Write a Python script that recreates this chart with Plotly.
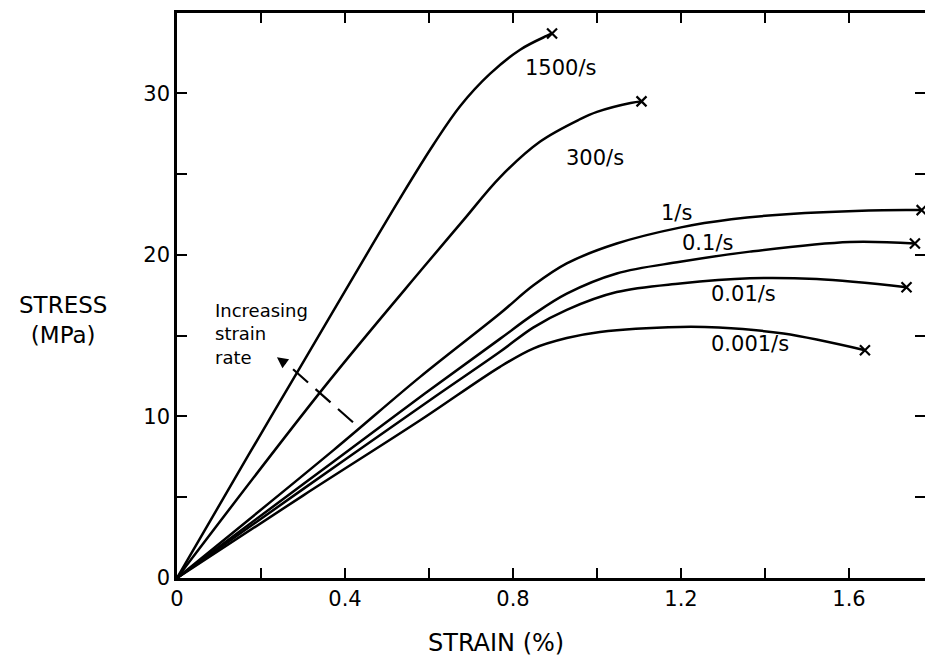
import plotly.graph_objects as go

# ---- data (strain %, stress MPa) ----
x_1500 = [0, 0.17, 0.29, 0.46, 0.531, 0.61, 0.674, 0.745, 0.817, 0.88, 0.893]
y_1500 = [0, 7.6, 12.9, 20.4, 23.5, 26.8, 29.2, 31.2, 32.7, 33.55, 33.7]

x_300 = [0, 0.35, 0.586, 0.682, 0.769, 0.864, 0.96, 1.0, 1.08, 1.106]
y_300 = [0, 11.8, 19.2, 22.15, 24.8, 27.0, 28.4, 28.85, 29.4, 29.5]

x_1 = [0, 0.372, 0.579, 0.769, 0.848, 0.928, 1.047, 1.2, 1.32, 1.443, 1.681, 1.773]
y_1 = [0, 7.9, 12.45, 16.37, 18.1, 19.47, 20.7, 21.7, 22.2, 22.5, 22.76, 22.77]

x_01 = [0, 0.3, 0.579, 0.769, 0.848, 0.928, 1.047, 1.198, 1.364, 1.602, 1.757]
y_01 = [0, 5.8, 11.2, 14.8, 16.3, 17.6, 18.85, 19.57, 20.2, 20.8, 20.7]

x_001 = [0, 0.3, 0.602, 0.769, 0.848, 0.928, 1.047, 1.198, 1.364, 1.523, 1.737]
y_001 = [0, 5.5, 11.0, 14.0, 15.5, 16.6, 17.7, 18.23, 18.55, 18.5, 18.0]

x_0001 = [0, 0.3, 0.579, 0.769, 0.848, 0.928, 1.007, 1.198, 1.29, 1.444, 1.638]
y_0001 = [0, 5.1, 9.76, 13.07, 14.2, 14.85, 15.23, 15.54, 15.5, 15.13, 14.1]

curve_names = ["1500/s", "300/s", "1/s", "0.1/s", "0.01/s", "0.001/s"]
curve_x = [x_1500, x_300, x_1, x_01, x_001, x_0001]
curve_y = [y_1500, y_300, y_1, y_01, y_001, y_0001]

label_x = [0.912, 0.995, 1.190, 1.262, 1.350, 1.364]
label_y = [31.56, 25.99, 22.57, 20.72, 17.57, 14.47]

arrow_x = [0.419, 0.272]
arrow_y = [9.64, 13.02]

x_tickvals = [0, 0.2, 0.4, 0.6, 0.8, 1.0, 1.2, 1.4, 1.6]
x_ticktext = ["0", "", "0.4", "", "0.8", "", "1.2", "", "1.6"]
y_tickvals = [0, 5, 10, 15, 20, 25, 30]
y_ticktext = ["0", "", "10", "", "20", "", "30"]

X_RANGE = [0, 1.781]
Y_RANGE = [0, 34.97]

FONT = "DejaVu Sans"

fig = go.Figure()
for name, xs, ys in zip(curve_names, curve_x, curve_y):
    fig.add_trace(go.Scatter(
        x=xs, y=ys, mode="lines", name=name,
        line=dict(color="black", width=2.5, shape="spline", smoothing=1.0),
        showlegend=False, hoverinfo="skip"))
    fig.add_trace(go.Scatter(
        x=[xs[-1]], y=[ys[-1]], mode="markers", name=name + " failure",
        marker=dict(symbol="x-thin", size=10, line=dict(color="black", width=2.2)),
        showlegend=False, hoverinfo="skip", cliponaxis=False))

# dashed "increasing strain rate" line
fig.add_trace(go.Scatter(
    x=arrow_x, y=arrow_y, mode="lines",
    line=dict(color="black", width=2.2, dash="20px,10px"),
    showlegend=False, hoverinfo="skip"))

# invisible trace on the right-hand axis (carries the mirrored ticks only)
fig.add_trace(go.Scatter(x=[X_RANGE[0]], y=[Y_RANGE[0]], yaxis="y2", mode="markers",
                         marker=dict(size=0.1, opacity=0), showlegend=False,
                         hoverinfo="skip"))

annotations = []
for name, lx, ly in zip(curve_names, label_x, label_y):
    annotations.append(dict(x=lx, y=ly, xref="x", yref="y", text=name,
                            showarrow=False, font=dict(family=FONT, size=21, color="black")))

annotations.append(dict(x=0.238, y=13.67, ax=0.262, ay=13.2, xref="x", yref="y",
                        axref="x", ayref="y", text="", showarrow=True,
                        arrowhead=2, arrowsize=1.0, arrowwidth=2.2, arrowcolor="black"))
annotations.append(dict(x=0.0857, y=15.1, xref="x", yref="y", xanchor="left",
                        yanchor="middle", align="left", text="Increasing<br>strain<br>rate",
                        showarrow=False, font=dict(family=FONT, size=18, color="black")))

annotations.append(dict(x=-0.1524, y=0.457, xref="paper", yref="paper",
                        xanchor="center", yanchor="middle",
                        text="STRESS<br>(MPa)", showarrow=False,
                        font=dict(family=FONT, size=23, color="black")))
annotations.append(dict(x=0.4265, y=-0.1156, xref="paper", yref="paper",
                        xanchor="center", yanchor="middle",
                        text="STRAIN (%)", showarrow=False,
                        font=dict(family=FONT, size=24, color="black")))

axis_common = dict(showgrid=False, zeroline=False, showline=True, linecolor="black",
                   linewidth=2.5, ticks="inside", ticklen=10,
                   tickwidth=2, tickcolor="black",
                   tickfont=dict(family=FONT, size=21, color="black"))

fig.update_layout(
    width=925, height=664,
    margin=dict(l=177, r=0, t=13, b=86),
    paper_bgcolor="white", plot_bgcolor="white",
    xaxis=dict(range=X_RANGE, tickmode="array", tickvals=x_tickvals,
               ticktext=x_ticktext, mirror="ticks", **axis_common),
    yaxis=dict(range=Y_RANGE, tickmode="array", tickvals=y_tickvals,
               ticktext=y_ticktext, **axis_common),
    yaxis2=dict(range=Y_RANGE, overlaying="y", side="right", tickmode="array",
                tickvals=y_tickvals, showticklabels=False, showgrid=False,
                zeroline=False, showline=False, ticks="inside", ticklen=10,
                tickwidth=2, tickcolor="black"),
    annotations=annotations,
)

fig.write_html("out.html", config={"displayModeBar": False},
               post_script="document.body.style.margin='0';document.body.style.overflow='hidden';")
